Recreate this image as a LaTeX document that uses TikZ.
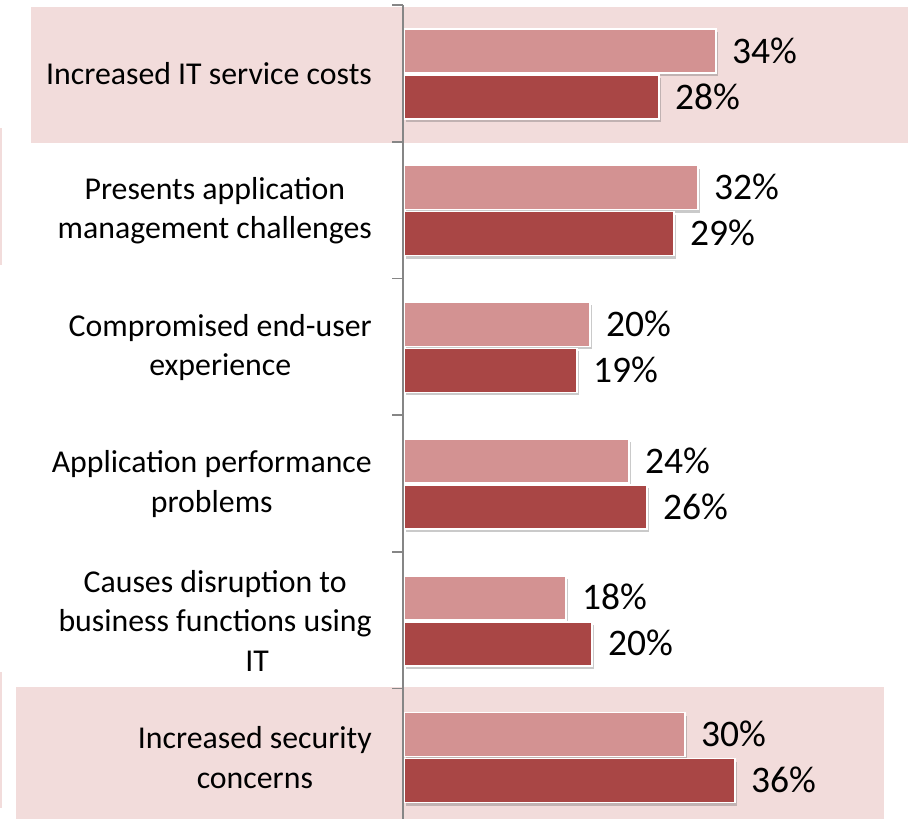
\documentclass[tikz,border=0pt]{standalone}
\usepackage{fontspec}
\setmainfont{Carlito}
\usetikzlibrary{shadows}
\definecolor{bgpink}{RGB}{242,220,219}
\definecolor{barlight}{RGB}{211,146,146}
\definecolor{bardark}{RGB}{169,70,69}
\definecolor{axisgray}{RGB}{134,134,134}
\tikzset{
  hlbox/.style={fill=bgpink, draw=none},
  barbase/.style={draw=white, line width=1.4pt,
    drop shadow={shadow xshift=1.5pt, shadow yshift=-3pt, opacity=0.35, fill=black!60}},
  lightbar/.style={barbase, fill=barlight},
  darkbar/.style={barbase, fill=bardark},
  axisline/.style={draw=axisgray, line width=1.6pt},
  catlabel/.style={anchor=east, align=center, inner sep=0pt,
    font=\fontsize{31.8}{39.5}\selectfont},
  pctlabel/.style={anchor=base west, inner sep=0pt,
    font=\fontsize{37.5}{40}\selectfont}
}
\begin{document}
\begin{tikzpicture}[x=1pt,y=-1pt]
\useasboundingbox (0,0) rectangle (912,819);
% highlight boxes
\fill[hlbox] (31,7) rectangle (908,143);
\fill[hlbox] (16,687) rectangle (884,819);
\fill[hlbox] (0,128) rectangle (1.5,265);
\fill[hlbox] (0,672) rectangle (1.5,808);
% bars: group centers c = 74 + 136.7 i
\foreach \i/\lr/\dr/\lt/\dt in {0/716/659/34/28, 1/698/674/32/29, 2/590/577/20/19,
                                3/629/647/24/26, 4/566/592/18/20, 5/685/735/30/36}{
  \pgfmathsetmacro{\c}{74+136.7*\i}
  \draw[lightbar] (404,\c-45) rectangle (\lr,\c-1);
  \draw[darkbar] (404,\c+1) rectangle (\dr,\c+45);
  \node[pctlabel] (pl\i) at (\lr+16,\c-23+12) {\lt\%};
  \node[pctlabel] (pd\i) at (\dr+16,\c+23+12) {\dt\%};
}
% axis
\coordinate (axtop) at (403,5);
\coordinate (axbot) at (403,819);
\draw[axisline] (axtop) -- (axbot);
\foreach \k in {0,...,5}{
  \pgfmathsetmacro{\t}{5+136.7*\k}
  \coordinate (tk\k) at (403,\t);
  \coordinate (tl\k) at (392,\t);
  \draw[axisline] (tl\k) -- (tk\k);
}
% category labels
\node[catlabel] (c0) at (372,74) {Increased IT service costs};
\node[catlabel] (c1) at (372,210.7) {Presents application\\management challenges};
\node[catlabel] (c2) at (372,347.4) {Compromised end-user\\experience};
\node[catlabel] (c3) at (372,484.1) {Application performance\\problems};
\node[catlabel] (c4) at (372,620.8) {Causes disruption to\\business functions using\\\hspace*{84pt}IT};
\node[catlabel] (c5) at (372,757.5) {Increased security\\concerns};
\end{tikzpicture}
\end{document}
